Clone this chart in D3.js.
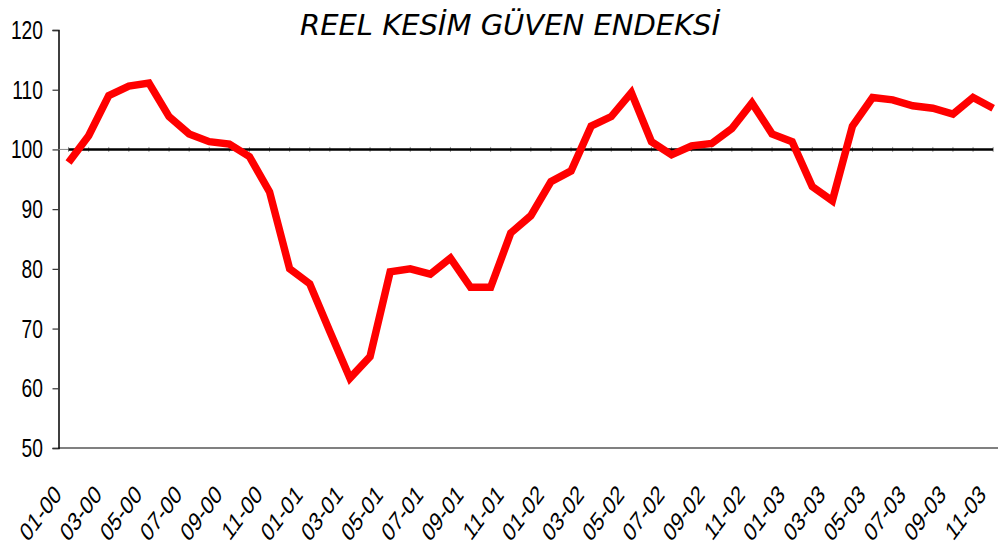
<!DOCTYPE html>
<html>
<head>
<meta charset="utf-8">
<script src="https://cdn.jsdelivr.net/npm/d3@7"></script>
<style>
  body { margin: 0; background: #fff; }
  svg { display: block; }
</style>
</head>
<body>
<svg id="chart"></svg>
<script>
// aylar (ay-yil) ve endeks degerleri
var months = ["01-00","02-00","03-00","04-00","05-00","06-00","07-00","08-00","09-00","10-00","11-00","12-00",
  "01-01","02-01","03-01","04-01","05-01","06-01","07-01","08-01","09-01","10-01","11-01","12-01",
  "01-02","02-02","03-02","04-02","05-02","06-02","07-02","08-02","09-02","10-02","11-02","12-02",
  "01-03","02-03","03-03","04-03","05-03","06-03","07-03","08-03","09-03","10-03","11-03"];
var values = [97.8, 102.3, 109.0, 110.6, 111.1, 105.5, 102.6, 101.3, 100.9, 98.8, 92.9, 80.0,
  77.5, 69.5, 61.7, 65.3, 79.5, 80.0, 79.1, 81.8, 76.9, 76.9, 86.0, 88.9,
  94.6, 96.4, 103.9, 105.5, 109.5, 101.3, 99.1, 100.6, 101.0, 103.5, 107.8, 102.6,
  101.3, 93.8, 91.4, 103.9, 108.7, 108.3, 107.3, 106.9, 105.9, 108.7, 106.9];
var yTicks = [50, 60, 70, 80, 90, 100, 110, 120];
var refLevel = 100;
var title = "REEL KESİM GÜVEN ENDEKSİ";

var W = 998, H = 543;
var svg = d3.select("#chart").attr("width", W).attr("height", H);

var plotLeft = 58.5, plotTop = 30, plotBottom = 448, step = 20.1;
var squash = 0.74; // yazilar yatayda daraltilmis

var x = d3.scaleBand()
  .domain(months)
  .range([plotLeft, plotLeft + months.length * step]);

var y = d3.scaleLinear()
  .domain([50, 120])
  .range([plotBottom, plotTop]);

var cx = function(m) { return x(m) + x.bandwidth() / 2; };

// baslik
svg.append("text")
  .attr("x", 510)
  .attr("y", 35)
  .attr("text-anchor", "middle")
  .attr("font-family", "DejaVu Sans, Verdana, sans-serif")
  .attr("font-style", "italic")
  .attr("font-size", 29)
  .attr("textLength", 420)
  .attr("lengthAdjust", "spacingAndGlyphs")
  .attr("fill", "#000")
  .text(title);

// x ekseni (alt cizgi)
svg.append("line")
  .attr("x1", plotLeft).attr("x2", W)
  .attr("y1", y(50)).attr("y2", y(50))
  .attr("stroke", "#808080")
  .attr("stroke-width", 2);

// y ekseni
var yAxis = svg.append("g")
  .attr("transform", "translate(" + plotLeft + ",0)")
  .call(d3.axisLeft(y).tickValues(yTicks).tickSize(6).tickFormat(""));
yAxis.select(".domain").attr("stroke", "#000").attr("stroke-width", 1.5);
yAxis.selectAll(".tick line").attr("stroke", "#333").attr("stroke-width", 1.2);

svg.selectAll(".ylab")
  .data(yTicks)
  .enter().append("text")
  .attr("class", "ylab")
  .attr("transform", function(d) { return "translate(43," + (y(d) + 9) + ") scale(" + squash + ",1)"; })
  .attr("text-anchor", "end")
  .attr("font-family", "Liberation Sans, Arial, sans-serif")
  .attr("font-size", 26)
  .attr("fill", "#000")
  .text(function(d) { return d; });

// x etiketleri, iki ayda bir
var labelMonths = months.filter(function(d, i) { return i % 2 === 0; });
svg.selectAll(".xlab")
  .data(labelMonths)
  .enter().append("text")
  .attr("class", "xlab")
  .attr("transform", function(d) {
    return "translate(" + (cx(d) - 6) + ",496) scale(" + squash + ",1) rotate(-45)";
  })
  .attr("text-anchor", "end")
  .attr("font-family", "Liberation Sans, Arial, sans-serif")
  .attr("font-size", 26)
  .attr("fill", "#000")
  .text(function(d) { return d; });

// 100 referans cizgisi
var first = months[0], last = months[months.length - 1];
svg.append("line")
  .attr("x1", plotLeft).attr("x2", cx(first))
  .attr("y1", y(refLevel)).attr("y2", y(refLevel))
  .attr("stroke", "#888").attr("stroke-width", 1);
svg.selectAll(".reftick")
  .data(months)
  .enter().append("line")
  .attr("class", "reftick")
  .attr("x1", function(d) { return cx(d); })
  .attr("x2", function(d) { return cx(d); })
  .attr("y1", y(refLevel) - 2.5)
  .attr("y2", y(refLevel) + 2.5)
  .attr("stroke", "#999").attr("stroke-width", 1);
svg.append("line")
  .attr("x1", cx(first)).attr("x2", cx(last))
  .attr("y1", y(refLevel)).attr("y2", y(refLevel))
  .attr("stroke", "#000").attr("stroke-width", 2.5);

// endeks cizgisi
var line = d3.line()
  .x(function(d, i) { return cx(months[i]); })
  .y(function(d) { return y(d); });

svg.append("path")
  .datum(values)
  .attr("fill", "none")
  .attr("stroke", "#ff0000")
  .attr("stroke-width", 7.5)
  .attr("stroke-linejoin", "miter")
  .attr("d", line);
</script>
</body>
</html>
